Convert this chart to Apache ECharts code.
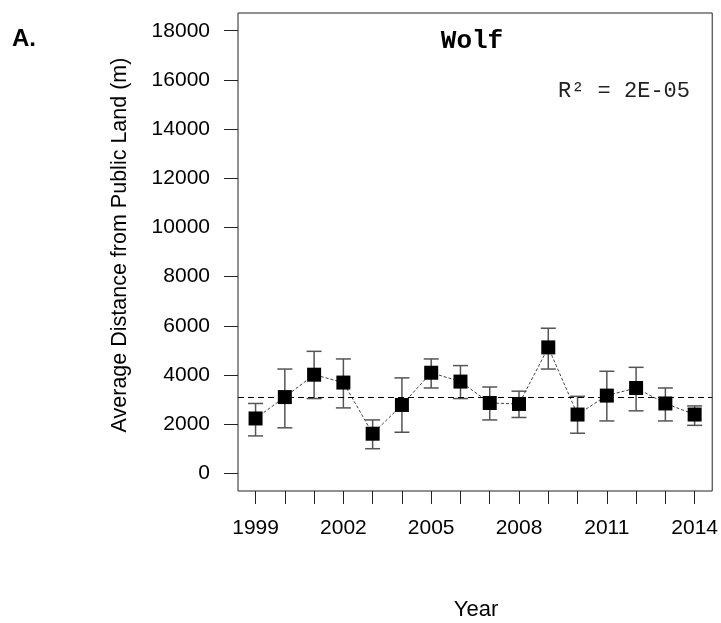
<!DOCTYPE html>
<html>
<head>
<meta charset="utf-8">
<script src="https://cdn.jsdelivr.net/npm/echarts@6/dist/echarts.min.js"></script>
<style>
html,body{margin:0;padding:0;background:#fff;}
#chart{width:721px;height:623px;}
</style>
</head>
<body>
<div id="chart"></div>
<script>
var years = [1999,2000,2001,2002,2003,2004,2005,2006,2007,2008,2009,2010,2011,2012,2013,2014];
var means = [2230,3100,4010,3690,1610,2780,4090,3730,2860,2820,5120,2390,3160,3470,2840,2390];
var upper = [2840,4240,4960,4650,2170,3880,4650,4380,3510,3340,5900,3130,4150,4310,3470,2740];
var lower = [1520,1850,3040,2660,1000,1670,3470,3040,2170,2270,4240,1630,2130,2540,2130,1950];
var overallMean = 3100;
var yTicks = [0,2000,4000,6000,8000,10000,12000,14000,16000,18000];
var xLabelTicks = [1999,2002,2005,2008,2011,2014];
var titleText = 'Wolf';
var r2Text = 'R\u00B2 = 2E-05';
var panelLabel = 'A.';
var xTitle = 'Year';
var yTitle = 'Average Distance from Public Land (m)';

var chart = echarts.init(document.getElementById('chart'));
var errData = years.map(function(y,i){ return [y, lower[i], upper[i]]; });
var pts = years.map(function(y,i){ return [y, means[i]]; });
var plain = function(v){ return String(v); };

var option = {
  backgroundColor: '#fff',
  animation: false,
  grid: {left: 238, right: 7, top: 13, bottom: 132, show: true, borderColor: '#222', borderWidth: 1, containLabel: false},
  xAxis: {
    type: 'value', min: 1998.4, max: 2014.6,
    axisLine: {show: false, onZero: false},
    splitLine: {show: false},
    axisTick: {show: true, customValues: years, length: 13, lineStyle: {color: '#222', width: 1}},
    axisLabel: {customValues: xLabelTicks, formatter: plain, margin: 27, color: '#000', fontFamily: 'Liberation Sans, Arial, sans-serif', fontSize: 21}
  },
  yAxis: {
    type: 'value', min: -720, max: 18720,
    axisLine: {show: false, onZero: false},
    splitLine: {show: false},
    axisTick: {show: true, customValues: yTicks, length: 14, lineStyle: {color: '#222', width: 1}},
    axisLabel: {customValues: yTicks, formatter: plain, margin: 28, color: '#000', fontFamily: 'Liberation Sans, Arial, sans-serif', fontSize: 21}
  },
  series: [
    {
      type: 'custom',
      data: errData,
      z: 2,
      renderItem: function(params, api){
        var x = api.value(0);
        var lo = api.coord([x, api.value(1)]);
        var hi = api.coord([x, api.value(2)]);
        var hw = 7.5;
        var st = {stroke: '#555', lineWidth: 1.5};
        return {type: 'group', children: [
          {type: 'line', shape: {x1: lo[0], y1: lo[1], x2: hi[0], y2: hi[1]}, style: st},
          {type: 'line', shape: {x1: lo[0]-hw, y1: lo[1], x2: lo[0]+hw, y2: lo[1]}, style: st},
          {type: 'line', shape: {x1: hi[0]-hw, y1: hi[1], x2: hi[0]+hw, y2: hi[1]}, style: st}
        ]};
      }
    },
    {
      type: 'line',
      data: pts,
      z: 3,
      symbol: 'rect',
      symbolSize: 14,
      itemStyle: {color: '#000'},
      lineStyle: {color: '#444', width: 1, type: [3, 2]},
      markLine: {
        silent: true,
        symbol: 'none',
        label: {show: false},
        lineStyle: {color: '#000', width: 1, type: [6, 4]},
        data: [{yAxis: overallMean}]
      }
    }
  ],
  graphic: [
    {type: 'text', x: 24, y: 39, style: {text: panelLabel, font: 'bold 24px Liberation Sans, Arial, sans-serif', fill: '#000', align: 'center', verticalAlign: 'middle'}},
    {type: 'text', x: 472, y: 41, style: {text: titleText, font: 'bold 26px Liberation Mono, Courier New, monospace', fill: '#000', align: 'center', verticalAlign: 'middle'}},
    {type: 'text', x: 624, y: 91, style: {text: r2Text, font: '22px Liberation Mono, Courier New, monospace', fill: '#222', align: 'center', verticalAlign: 'middle'}},
    {type: 'text', x: 476, y: 610, style: {text: xTitle, font: '22px Liberation Sans, Arial, sans-serif', fill: '#000', align: 'center', verticalAlign: 'middle'}},
    {type: 'text', x: 120, y: 245, rotation: Math.PI/2, style: {text: yTitle, font: '21.5px Liberation Sans, Arial, sans-serif', fill: '#000', align: 'center', verticalAlign: 'middle'}}
  ]
};
chart.setOption(option);
</script>
</body>
</html>
